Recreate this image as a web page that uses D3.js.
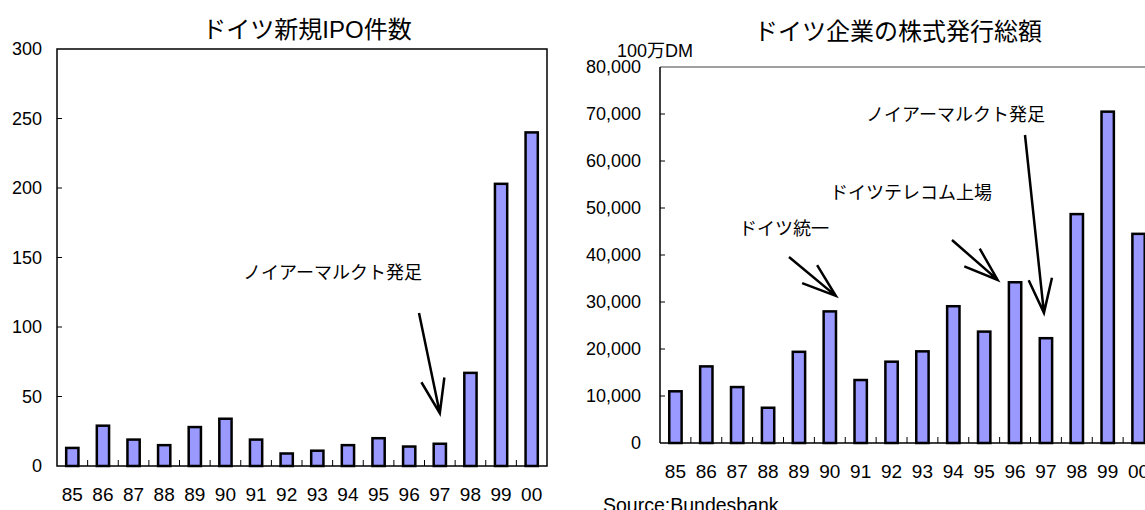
<!DOCTYPE html>
<html>
<head>
<meta charset="utf-8">
<script src="https://cdn.jsdelivr.net/npm/d3@7"></script>
<style>
  body { margin: 0; background: #fff; }
  svg { display: block; font-family: "Liberation Sans", Arial, "Noto Sans CJK JP", sans-serif; }
</style>
</head>
<body>
<svg id="chart" width="1145" height="510"></svg>
<script>
// data
const years = ["85", "86", "87", "88", "89", "90", "91", "92", "93", "94", "95", "96", "97", "98", "99", "00"];
const ipoCounts = [13, 29, 19, 15, 28, 34, 19, 9, 11, 15, 20, 14, 16, 67, 203, 240];
const issueVolumes = [11000, 16300, 11900, 7500, 19400, 28000, 13400, 17300, 19500, 29100, 23700, 34200, 22300, 48700, 70500, 44500];
const ipoTicks = [0, 50, 100, 150, 200, 250, 300];
const volumeTicks = [0, 10000, 20000, 30000, 40000, 50000, 60000, 70000, 80000];

const barFill = "#9999ff";
const svg = d3.select("#chart");

// arrow: line from tail to tip plus two barbs at the tip
function arrow(g, tail, tip)
{
  const ang = Math.atan2(tail[1] - tip[1], tail[0] - tip[0]);
  const len = 36, spread = 19 * Math.PI / 180;
  const b1 = [tip[0] + len * Math.cos(ang - spread), tip[1] + len * Math.sin(ang - spread)];
  const b2 = [tip[0] + len * Math.cos(ang + spread), tip[1] + len * Math.sin(ang + spread)];
  g.append("path")
    .attr("d", `M${ tail }L${ tip }M${ b1 }L${ tip }L${ b2 }`)
    .attr("fill", "none")
    .attr("stroke", "#000")
    .attr("stroke-width", 2.5);
}

// ---------- left chart: number of IPOs ----------
{
  const x = d3.scaleBand().domain(years).range([57, 547]).padding(0);
  const y = d3.scaleLinear().domain([0, 300]).range([466, 49]);
  const g = svg.append("g");
  const bw = x.bandwidth() / 2.5;

  g.append("text")
    .attr("x", 307).attr("y", 38)
    .attr("text-anchor", "middle")
    .style("font-size", "24px")
    .text("ドイツ新規IPO件数");

  g.append("rect")
    .attr("x", 57).attr("y", 49)
    .attr("width", 490).attr("height", 417)
    .attr("fill", "none").attr("stroke", "#000").attr("stroke-width", 1.5);

  g.append("g").selectAll("rect")
    .data(ipoCounts)
    .enter()
    .append("rect")
    .attr("x", (d, i) => x(years[i]) + (x.bandwidth() - bw) / 2)
    .attr("y", d => y(d))
    .attr("width", bw)
    .attr("height", d => y(0) - y(d))
    .attr("fill", barFill)
    .attr("stroke", "#000")
    .attr("stroke-width", 2.5);

  // inward ticks
  g.append("g").selectAll("line")
    .data(ipoTicks.slice(1, -1))
    .enter().append("line")
    .attr("x1", 57).attr("x2", 62)
    .attr("y1", d => y(d)).attr("y2", d => y(d))
    .attr("stroke", "#000");
  g.append("g").selectAll("line")
    .data(years.slice(1))
    .enter().append("line")
    .attr("x1", d => x(d)).attr("x2", d => x(d))
    .attr("y1", 466).attr("y2", 460)
    .attr("stroke", "#000");

  g.append("g").selectAll("text")
    .data(ipoTicks)
    .enter().append("text")
    .attr("x", 42).attr("y", d => y(d))
    .attr("dy", "0.35em")
    .attr("text-anchor", "end")
    .style("font-size", "18px")
    .text(d => d);

  g.append("g").selectAll("text")
    .data(years)
    .enter().append("text")
    .attr("x", d => x(d) + x.bandwidth() / 2).attr("y", 494)
    .attr("dy", "0.35em")
    .attr("text-anchor", "middle")
    .style("font-size", "19px")
    .text(d => d);

  g.append("text")
    .attr("x", 243).attr("y", 273).attr("dy", "0.35em")
    .style("font-size", "18px")
    .text("ノイアーマルクト発足");
  arrow(g, [419, 313], [x("97") + x.bandwidth() / 2, y(38)]);
}

// ---------- right chart: total share issuance ----------
{
  const x = d3.scaleBand().domain(years).range([660, 1154]).padding(0);
  const y = d3.scaleLinear().domain([0, 80000]).range([443, 67]);
  const g = svg.append("g");
  const bw = x.bandwidth() / 2.5;
  const fmt = d3.format(",");

  g.append("text")
    .attr("x", 898).attr("y", 40)
    .attr("text-anchor", "middle")
    .style("font-size", "24px")
    .text("ドイツ企業の株式発行総額");

  g.append("text")
    .attr("x", 617).attr("y", 51).attr("dy", "0.35em")
    .style("font-size", "18px")
    .text("100万DM");

  g.append("line")
    .attr("x1", 660).attr("x2", 1154).attr("y1", 67).attr("y2", 67)
    .attr("stroke", "#808080").attr("stroke-width", 1.5);
  g.append("line")
    .attr("x1", 660).attr("x2", 660).attr("y1", 67).attr("y2", 443)
    .attr("stroke", "#000").attr("stroke-width", 1.5);

  g.append("g").selectAll("rect")
    .data(issueVolumes)
    .enter()
    .append("rect")
    .attr("x", (d, i) => x(years[i]) + (x.bandwidth() - bw) / 2)
    .attr("y", d => y(d))
    .attr("width", bw)
    .attr("height", d => y(0) - y(d))
    .attr("fill", barFill)
    .attr("stroke", "#000")
    .attr("stroke-width", 2.5);

  g.append("line")
    .attr("x1", 660).attr("x2", 1154).attr("y1", 443).attr("y2", 443)
    .attr("stroke", "#000").attr("stroke-width", 1.5);

  g.append("g").selectAll("line")
    .data(volumeTicks.slice(1, -1))
    .enter().append("line")
    .attr("x1", 660).attr("x2", 665)
    .attr("y1", d => y(d)).attr("y2", d => y(d))
    .attr("stroke", "#000");
  g.append("g").selectAll("line")
    .data(years.slice(1))
    .enter().append("line")
    .attr("x1", d => x(d)).attr("x2", d => x(d))
    .attr("y1", 443).attr("y2", 437)
    .attr("stroke", "#000");

  g.append("g").selectAll("text")
    .data(volumeTicks)
    .enter().append("text")
    .attr("x", 641).attr("y", d => y(d))
    .attr("dy", "0.35em")
    .attr("text-anchor", "end")
    .style("font-size", "18px")
    .text(d => fmt(d));

  g.append("g").selectAll("text")
    .data(years)
    .enter().append("text")
    .attr("x", d => x(d) + x.bandwidth() / 2).attr("y", 471)
    .attr("dy", "0.35em")
    .attr("text-anchor", "middle")
    .style("font-size", "19px")
    .text(d => d);

  // annotations
  g.append("text")
    .attr("x", 739).attr("y", 229).attr("dy", "0.35em")
    .style("font-size", "18px")
    .text("ドイツ統一");
  arrow(g, [789, 257], [x("90") + x.bandwidth() / 2 + 6, y(31300)]);

  g.append("text")
    .attr("x", 830).attr("y", 193).attr("dy", "0.35em")
    .style("font-size", "18px")
    .text("ドイツテレコム上場");
  arrow(g, [952, 240], [x("96") - 2, y(34700)]);

  g.append("text")
    .attr("x", 866).attr("y", 115).attr("dy", "0.35em")
    .style("font-size", "18px")
    .text("ノイアーマルクト発足");
  arrow(g, [1025, 135], [x("97") + x.bandwidth() / 2 - 2, y(27700)]);

  g.append("text")
    .attr("x", 603).attr("y", 512)
    .style("font-size", "19.5px")
    .text("Source:Bundesbank");
}
</script>
</body>
</html>
